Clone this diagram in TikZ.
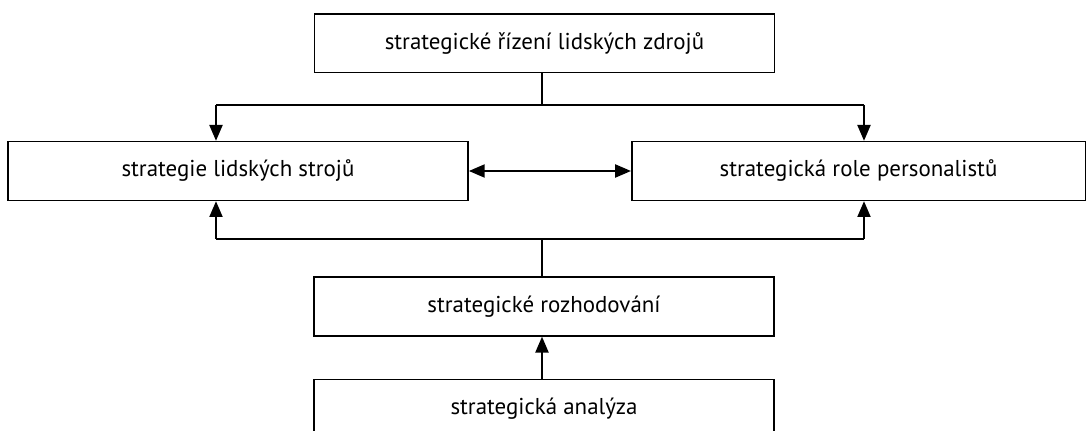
\documentclass[tikz,border=0pt]{standalone}
\usepackage{fontspec}
\setmainfont{PT Sans}
\usetikzlibrary{arrows.meta,calc}
\tikzset{
  box/.style={draw=black, line width=1pt, minimum width=345pt, minimum height=44pt, inner sep=0pt, font=\fontsize{17.2}{20}\selectfont},
  tip/.tip={Triangle[length=12pt,width=9.5pt]},
  conn/.style={line width=2.2pt, -tip},
  plain/.style={line width=2.2pt}
}
\begin{document}
\begin{tikzpicture}[x=0.75pt,y=-0.75pt]
\useasboundingbox (0,0) rectangle (1086,431);
\clip (0,0) rectangle (1086,431);
\node[box] (top) at (544.5,43.5) {strategické řízení lidských zdrojů};
\node[box, minimum width=345pt] (left) at (238,171) {strategie lidských strojů};
\node[box, minimum width=340pt] (right) at (858.5,171) {strategická role personalistů};
\node[box] (mid) at (544,306.5) {strategické rozhodování};
\node[box] (bot) at (544,408.5) {strategická analýza};
\coordinate (jt) at (542,105);
\coordinate (jb) at (542,239);
\coordinate (lt) at (216,105);
\coordinate (rt) at (864,105);
\coordinate (lb) at (216,239);
\coordinate (rb) at (864,239);
\draw[plain] (top.south -| jt) -- (jt);
\draw[plain] (lt) -- (rt);
\draw[conn] (lt) -- (lt |- left.north);
\draw[conn] (rt) -- (rt |- right.north);
\draw[plain] (mid.north -| jb) -- (jb);
\draw[plain] (lb) -- (rb);
\draw[conn] (lb) -- (lb |- left.south);
\draw[conn] (rb) -- (rb |- right.south);
\draw[conn] (bot.north -| jb) -- (mid.south -| jb);
\draw[line width=2.2pt, tip-tip] (left.east) -- (right.west);
\end{tikzpicture}
\end{document}
